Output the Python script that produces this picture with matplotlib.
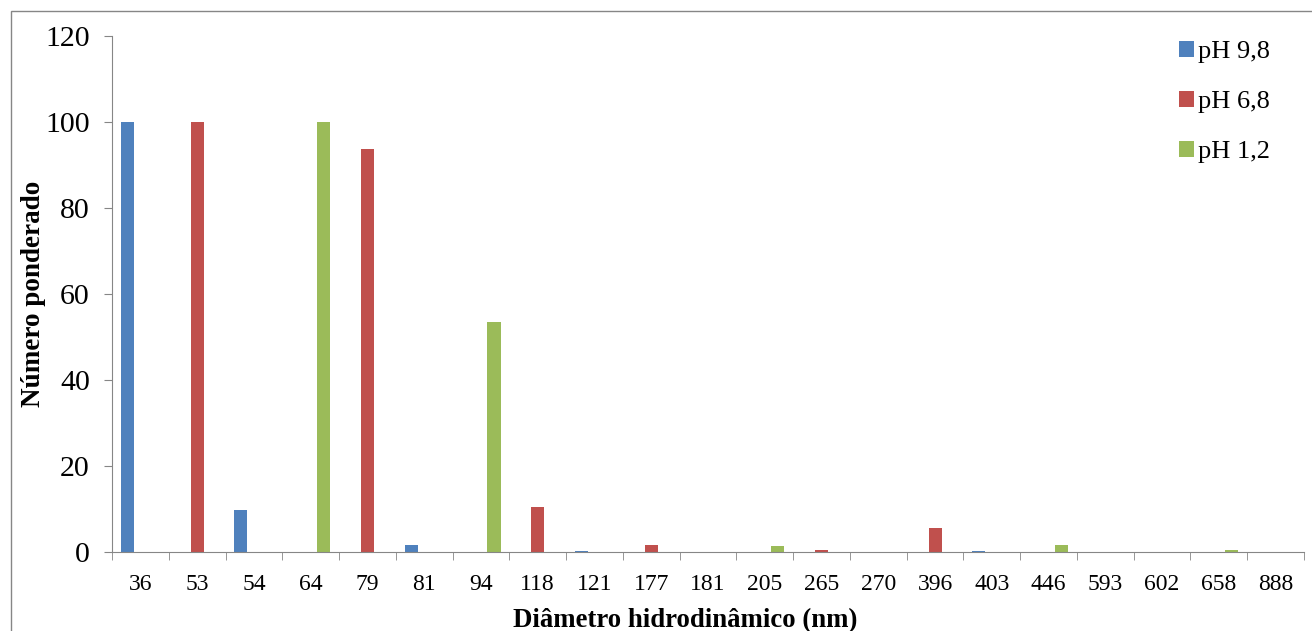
import numpy as np
import matplotlib
matplotlib.use('Agg')
import matplotlib.pyplot as plt
from matplotlib.patches import Rectangle

plt.rcParams.update({'font.family': ['Liberation Serif', 'DejaVu Serif']})

#%%
""" data """
diametros = ['36', '53', '54', '64', '79', '81', '94', '118', '121', '177', '181',
             '205', '265', '270', '396', '403', '446', '593', '602', '658', '888']
ph98 = [100, 0, 9.8, 0, 0, 1.6, 0, 0, 0.2, 0, 0, 0, 0, 0, 0, 0.2, 0, 0, 0, 0, 0]
ph68 = [0, 100, 0, 0, 93.7, 0, 0, 10.4, 0, 1.6, 0, 0, 0.5, 0, 5.6, 0, 0, 0, 0, 0, 0]
ph12 = [0, 0, 0, 100, 0, 0, 53.4, 0, 0, 0, 0, 1.3, 0, 0, 0, 0, 1.6, 0, 0, 0.5, 0]
labels = ['pH 9,8', 'pH 6,8', 'pH 1,2']
colors = ['#4f81bd', '#c0504d', '#9bbb59']

#%%
""" plot """
W, H = 1312, 631
fig = plt.figure(figsize=(W/100, H/100), dpi=100, facecolor='w')
ax = fig.add_axes([112/W, 1 - 552/H, (1304 - 112)/W, (552 - 36)/H])

# chart area border
fig.patches.append(Rectangle((11/W, -0.01), 1.1, 1 - 11/H + 0.01, transform=fig.transFigure,
                             fill=False, edgecolor='#868686', linewidth=1.0))

x = np.arange(len(diametros))
w = 0.23
for i, (vals, lab, c) in enumerate(zip([ph98, ph68, ph12], labels, colors)):
    ax.bar(x + (i - 1) * w, vals, width=w, color=c, label=lab)

ax.set_xlim(-0.5, len(diametros) - 0.5)
ax.set_ylim(0, 120)
ax.set_yticks(np.arange(0, 121, 20))
ax.set_xticks(x)
ax.set_xticklabels(diametros, fontsize=17)
ax.set_xticks(np.arange(-0.5, len(diametros), 1), minor=True)
ax.tick_params(axis='x', which='major', length=0, pad=16)
ax.tick_params(axis='x', which='minor', length=6, color='#868686')
ax.tick_params(axis='y', labelsize=21.5, length=6, color='#868686', pad=10)

for s in ['top', 'right']:
    ax.spines[s].set_visible(False)
for s in ['left', 'bottom']:
    ax.spines[s].set_color('#868686')

fig.text(685/W, 1 - 627/H, "Diâmetro hidrodinâmico (nm)", fontsize=19.3, fontweight='bold',
         ha='center', va='baseline')
fig.text(34/W, 1 - 294/H, "Número ponderado", fontsize=19.5, fontweight='bold',
         ha='center', va='center', rotation=90)

ax.legend(loc='upper right', bbox_to_anchor=(0.991, 1.036), frameon=False, fontsize=19,
          handlelength=0.55, handleheight=0.55, handletextpad=0.15, labelspacing=1.04)

fig.savefig('out.png', dpi=100)
